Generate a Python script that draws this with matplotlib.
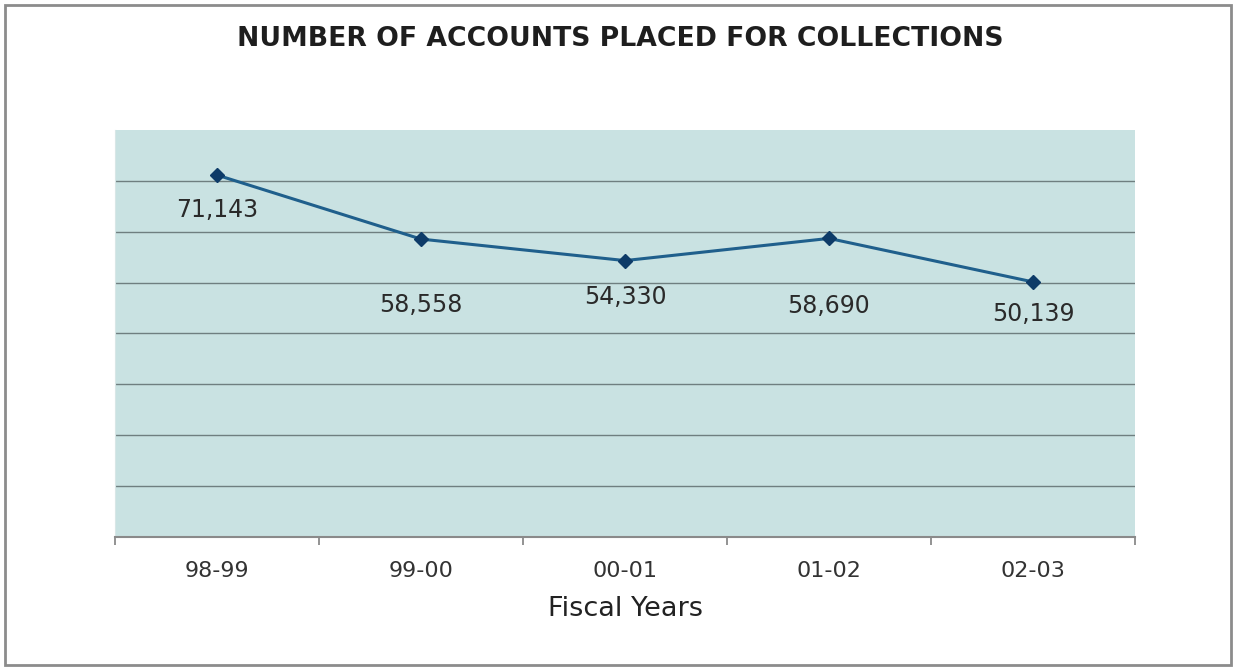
import numpy as np
import matplotlib.pyplot as plt
from matplotlib.patches import Rectangle

years = ["98-99", "99-00", "00-01", "01-02", "02-03"]
accounts = [71143, 58558, 54330, 58690, 50139]
# vertical offset (pixels) of each value label below its point
label_dy = [-35, -66, -36, -68, -32]

fig = plt.figure(figsize=(12.33, 6.68), dpi=100)
ax = fig.add_axes([0.0933, 0.1961, 0.8272, 0.6093])

x = np.arange(len(years))
ax.set_facecolor("#c9e2e2")
ax.plot(x, accounts, color="#1f5f8c", lw=2.2, marker="D", ms=7.5,
        mfc="#0d3b68", mec="#0d3b68", zorder=3)

for xi, v, dy in zip(x, accounts, label_dy):
    ax.annotate(f"{v:,}", (xi, v), xytext=(0, dy * 0.72), textcoords="offset points",
                ha="center", va="center", fontsize=17, color="#2a2a2a")

ax.set_xlim(-0.5, len(years) - 0.5)
ax.set_ylim(0, 80000)
ax.set_yticks(np.arange(10000, 80000, 10000))
ax.yaxis.grid(True, color="#6f7f80", lw=1)
ax.tick_params(axis="y", left=False, labelleft=False)

ax.set_xticks(x)
ax.set_xticklabels(years, fontsize=16, color="#333333")
ax.set_xticks(np.arange(-0.5, len(years)), minor=True)
ax.tick_params(axis="x", which="major", length=0, pad=17)
ax.tick_params(axis="x", which="minor", length=6, color="#808080", width=1.2)
ax.set_xlabel("Fiscal Years", fontsize=19.5, color="#222222", labelpad=11)

for side in ["top", "right"]:
    ax.spines[side].set_visible(False)
ax.spines["left"].set_color("#d8e6e6")
ax.spines["bottom"].set_color("#8a8a8a")
ax.spines["bottom"].set_linewidth(1.5)

fig.text(0.503, 0.941, "NUMBER OF ACCOUNTS PLACED FOR COLLECTIONS",
         ha="center", va="center", fontsize=19.2, fontweight="bold", color="#1e1e1e")

fig.patches.append(Rectangle((0.004, 0.005), 0.994, 0.988, transform=fig.transFigure,
                             fill=False, ec="#8c8c8c", lw=2))

fig.savefig("out.png", dpi=100)
